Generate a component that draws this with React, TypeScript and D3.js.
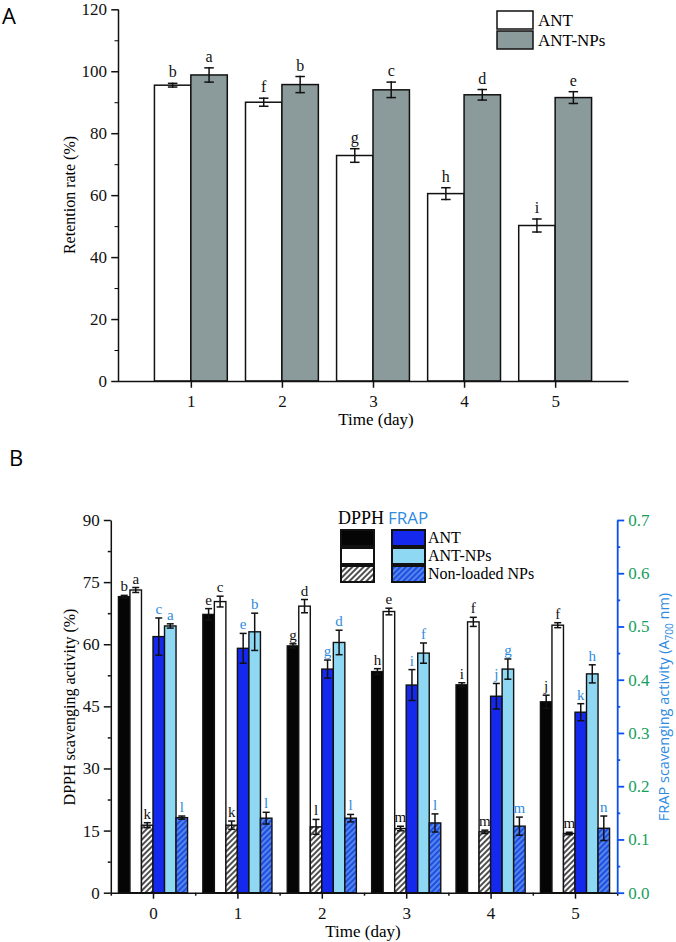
import React, { useEffect, useRef } from 'react';
import * as d3 from 'd3';

// panel A: retention rate
const daysA = [1, 2, 3, 4, 5];
const antA = [95.5, 90.0, 72.8, 60.5, 50.2];
const antErrA = [0.6, 1.3, 2.2, 1.9, 2.1];
const antLetA = ['b', 'f', 'g', 'h', 'i'];
const npsA = [98.8, 95.7, 94.0, 92.4, 91.5];
const npsErrA = [2.3, 2.6, 2.5, 1.7, 1.9];
const npsLetA = ['a', 'b', 'c', 'd', 'e'];
const yTicksA = [0, 20, 40, 60, 80, 100, 120];

// panel B: DPPH (left axis) and FRAP (right axis)
const daysB = [0, 1, 2, 3, 4, 5];
const dpphAnt = [71.5, 67.2, 59.6, 53.4, 50.2, 46.1];
const dpphAntErr = [0.3, 1.4, 0.5, 0.7, 0.5, 1.6];
const dpphAntLet = ['b', 'e', 'g', 'h', 'i', 'j'];
const dpphNps = [73.1, 70.3, 69.2, 67.9, 65.4, 64.6];
const dpphNpsErr = [0.6, 1.3, 1.6, 0.8, 1.1, 0.6];
const dpphNpsLet = ['a', 'c', 'd', 'e', 'f', 'f'];
const dpphBlank = [16.3, 16.3, 15.9, 15.5, 14.7, 14.3];
const dpphBlankErr = [0.6, 1.0, 1.8, 0.55, 0.4, 0.3];
const dpphBlankLet = ['k', 'k', 'l', 'm', 'm', 'm'];
const frapAnt = [0.481, 0.459, 0.420, 0.390, 0.369, 0.339];
const frapAntErr = [0.035, 0.028, 0.017, 0.029, 0.024, 0.016];
const frapAntLet = ['c', 'e', 'g', 'i', 'j', 'k'];
const frapNps = [0.501, 0.490, 0.470, 0.450, 0.420, 0.411];
const frapNpsErr = [0.004, 0.035, 0.023, 0.019, 0.019, 0.017];
const frapNpsLet = ['a', 'b', 'd', 'f', 'g', 'h'];
const frapBlank = [0.141, 0.140, 0.140, 0.131, 0.125, 0.121];
const frapBlankErr = [0.003, 0.011, 0.007, 0.017, 0.017, 0.023];
const frapBlankLet = ['l', 'l', 'l', 'l', 'm', 'n'];
const yTicksL = [0, 15, 30, 45, 60, 75, 90];
const yTicksR = [0, 0.1, 0.2, 0.3, 0.4, 0.5, 0.6, 0.7];

const SERIF = '"Liberation Serif", "Times New Roman", serif';
const SANS = '"Open Sans", "Liberation Sans", sans-serif';
const BLUE_TXT = '#2f8be0';

export default function App() {
  const ref = useRef<SVGSVGElement>(null);

  function draw() {
    const svg = d3.select(ref.current);
    svg.selectAll('*').remove();

    const defs = svg.append('defs');
    const p1 = defs.append('pattern').attr('id', 'hatchBW')
      .attr('patternUnits', 'userSpaceOnUse').attr('width', 4).attr('height', 4)
      .attr('patternTransform', 'rotate(45)');
    p1.append('rect').attr('width', 4).attr('height', 4).attr('fill', '#fff');
    p1.append('line').attr('x1', 2).attr('x2', 2).attr('y1', 0).attr('y2', 4)
      .attr('stroke', '#222').attr('stroke-width', 1.6);
    const p2 = defs.append('pattern').attr('id', 'hatchBlue')
      .attr('patternUnits', 'userSpaceOnUse').attr('width', 4).attr('height', 4)
      .attr('patternTransform', 'rotate(45)');
    p2.append('rect').attr('width', 4).attr('height', 4).attr('fill', '#1e4fe0');
    p2.append('line').attr('x1', 2).attr('x2', 2).attr('y1', 0).attr('y2', 4)
      .attr('stroke', '#6d9cf2').attr('stroke-width', 1.4);

    // error bar + letter helper
    function errBar(g: any, cx: number, top: number, lo: number, hi: number, cap: number) {
      g.append('line').attr('x1', cx).attr('x2', cx).attr('y1', lo).attr('y2', hi)
        .attr('stroke', '#111').attr('stroke-width', 1.5);
      [lo, hi].forEach(yy => {
        g.append('line').attr('x1', cx - cap).attr('x2', cx + cap).attr('y1', yy).attr('y2', yy)
          .attr('stroke', '#111').attr('stroke-width', 1.5);
      });
    }

    // ---------------- Panel A ----------------
    const gA = svg.append('g');
    const xA = d3.scaleLinear().domain([0.2, 5.8]).range([118, 628]);
    const yA = d3.scaleLinear().domain([0, 120]).range([381, 9.3]);
    const bwA = xA(1.4) - xA(1);

    const seriesA = [
      { vals: antA, err: antErrA, lets: antLetA, fill: '#ffffff', off: -1 },
      { vals: npsA, err: npsErrA, lets: npsLetA, fill: '#8b9b9b', off: 0 },
    ];
    seriesA.forEach(s => {
      daysA.forEach((d, i) => {
        const x0 = xA(d) + s.off * bwA;
        gA.append('rect').attr('x', x0).attr('y', yA(s.vals[i]))
          .attr('width', bwA).attr('height', yA(0) - yA(s.vals[i]))
          .attr('fill', s.fill).attr('stroke', '#111').attr('stroke-width', 1.5);
        const cx = x0 + bwA / 2;
        const hi = yA(s.vals[i] + s.err[i]);
        errBar(gA, cx, yA(s.vals[i]), yA(s.vals[i] - s.err[i]), hi, 4);
        gA.append('text').attr('x', cx).attr('y', hi - 6).attr('text-anchor', 'middle')
          .attr('font-family', SERIF).attr('font-size', 16).attr('fill', '#111').text(s.lets[i]);
      });
    });

    const axA = gA.append('g').attr('transform', `translate(0,${yA(0)})`)
      .call(d3.axisBottom(xA).tickValues(daysA).tickSize(6).tickSizeOuter(0).tickPadding(8).tickFormat(d3.format('d')));
    const ayA = gA.append('g').attr('transform', `translate(${xA(0.2)},0)`)
      .call(d3.axisLeft(yA).tickValues(yTicksA).tickSize(6).tickSizeOuter(0).tickPadding(5));
    gA.append('g').attr('transform', `translate(${xA(0.2)},0)`)
      .call(d3.axisLeft(yA).tickValues(d3.range(10, 120, 20)).tickSize(3).tickFormat(() => ''))
      .select('.domain').remove();
    [axA, ayA].forEach(a => {
      a.selectAll('text').attr('font-family', SERIF).attr('font-size', 17).attr('fill', '#111');
      a.selectAll('line,path').attr('stroke', '#111').attr('stroke-width', 1.5);
    });
    gA.selectAll('line').attr('stroke-linecap', 'square');

    gA.append('text').attr('transform', `translate(75,195) rotate(-90)`).attr('text-anchor', 'middle')
      .attr('font-family', SERIF).attr('font-size', 16).text('Retention rate (%)');
    gA.append('text').attr('x', 376).attr('y', 425).attr('text-anchor', 'middle')
      .attr('font-family', SERIF).attr('font-size', 17).text('Time (day)');
    gA.append('text').attr('x', 2).attr('y', 24)
      .attr('font-family', SANS).attr('font-size', 22).text('A');

    // legend A
    [['ANT', '#ffffff', 11], ['ANT-NPs', '#8b9b9b', 31]].forEach(([lab, fill, yy]) => {
      gA.append('rect').attr('x', 497).attr('y', yy as number).attr('width', 36).attr('height', 18)
        .attr('fill', fill as string).attr('stroke', '#111').attr('stroke-width', 1.5);
      gA.append('text').attr('x', 538).attr('y', (yy as number) + 15)
        .attr('font-family', SERIF).attr('font-size', 17).text(lab as string);
    });

    // ---------------- Panel B ----------------
    const gB = svg.append('g');
    const xB = d3.scaleLinear().domain([-0.5, 5.5]).range([110.8, 617.2]);
    const yL = d3.scaleLinear().domain([0, 90]).range([892.7, 520]);
    const yR = d3.scaleLinear().domain([0, 0.7]).range([892.7, 520]);
    const bw = xB(0.1365) - xB(0);

    const seriesB = [
      { vals: dpphAnt, err: dpphAntErr, lets: dpphAntLet, fill: '#050505', y: yL, col: '#111' },
      { vals: dpphNps, err: dpphNpsErr, lets: dpphNpsLet, fill: '#ffffff', y: yL, col: '#111' },
      { vals: dpphBlank, err: dpphBlankErr, lets: dpphBlankLet, fill: 'url(#hatchBW)', y: yL, col: '#111' },
      { vals: frapAnt, err: frapAntErr, lets: frapAntLet, fill: '#1428ee', y: yR, col: BLUE_TXT },
      { vals: frapNps, err: frapNpsErr, lets: frapNpsLet, fill: '#8fd8f4', y: yR, col: BLUE_TXT },
      { vals: frapBlank, err: frapBlankErr, lets: frapBlankLet, fill: 'url(#hatchBlue)', y: yR, col: BLUE_TXT },
    ];
    seriesB.forEach((s, k) => {
      daysB.forEach((d, i) => {
        const x0 = xB(d) + (k - 3) * bw;
        const sc = s.y;
        gB.append('rect').attr('x', x0).attr('y', sc(s.vals[i]))
          .attr('width', bw).attr('height', sc(0) - sc(s.vals[i]))
          .attr('fill', s.fill).attr('stroke', '#111').attr('stroke-width', 1.4);
        const cx = x0 + bw / 2;
        const hi = sc(s.vals[i] + s.err[i]);
        errBar(gB, cx, sc(s.vals[i]), sc(s.vals[i] - s.err[i]), hi, 3.5);
        gB.append('text').attr('x', cx).attr('y', hi - 4).attr('text-anchor', 'middle')
          .attr('font-family', SERIF).attr('font-size', 15).attr('fill', s.col).text(s.lets[i]);
      });
    });

    const axB = gB.append('g').attr('transform', `translate(0,${yL(0)})`)
      .call(d3.axisBottom(xB).tickValues(daysB).tickSize(6).tickSizeOuter(0).tickPadding(8).tickFormat(d3.format('d')));
    gB.append('g').attr('transform', `translate(0,${yL(0)})`)
      .call(d3.axisBottom(xB).tickValues(d3.range(-0.5, 5.6, 1)).tickSize(3).tickFormat(() => ''))
      .select('.domain').remove();
    const ayL = gB.append('g').attr('transform', `translate(${xB(-0.5)},0)`)
      .call(d3.axisLeft(yL).tickValues(yTicksL).tickSize(7).tickSizeOuter(0).tickPadding(4));
    gB.append('g').attr('transform', `translate(${xB(-0.5)},0)`)
      .call(d3.axisLeft(yL).tickValues(d3.range(7.5, 90, 15)).tickSize(3).tickFormat(() => ''))
      .select('.domain').remove();
    [axB, ayL].forEach(a => {
      a.selectAll('text').attr('font-family', SERIF).attr('font-size', 17).attr('fill', '#111');
    });
    gB.selectAll('.tick line, .domain').attr('stroke', '#111').attr('stroke-width', 1.5);

    const ayR = gB.append('g').attr('transform', `translate(${xB(5.5)},0)`)
      .call(d3.axisRight(yR).tickValues(yTicksR).tickSize(7).tickSizeOuter(0).tickPadding(4).tickFormat(d3.format('.1f')));
    const ayR2 = gB.append('g').attr('transform', `translate(${xB(5.5)},0)`)
      .call(d3.axisRight(yR).tickValues(d3.range(0.05, 0.7, 0.1)).tickSize(3).tickFormat(() => ''));
    ayR2.select('.domain').remove();
    [ayR, ayR2].forEach(a => a.selectAll('.tick line, .domain').attr('stroke', '#0a50f0').attr('stroke-width', 1.8));
    ayR.selectAll('text').attr('font-family', SERIF).attr('font-size', 17).attr('fill', '#16a05c');

    gB.append('text').attr('transform', `translate(75,707) rotate(-90)`).attr('text-anchor', 'middle')
      .attr('font-family', SERIF).attr('font-size', 16).text('DPPH scavenging activity (%)');
    const rl = gB.append('text').attr('transform', `translate(669,707) rotate(-90)`).attr('text-anchor', 'middle')
      .attr('font-family', SANS).attr('font-size', 14.5).attr('fill', BLUE_TXT);
    rl.append('tspan').text('FRAP scavenging activity (A');
    rl.append('tspan').attr('font-size', 10).attr('dy', 4).text('700');
    rl.append('tspan').attr('dy', -4).text(' nm)');
    gB.append('text').attr('x', 363).attr('y', 937).attr('text-anchor', 'middle')
      .attr('font-family', SERIF).attr('font-size', 17).text('Time (day)');
    gB.append('text').attr('x', 9).attr('y', 466)
      .attr('font-family', SANS).attr('font-size', 22).text('B');

    // legend B
    gB.append('text').attr('x', 338).attr('y', 524).attr('font-family', SERIF).attr('font-size', 18).text('DPPH');
    gB.append('text').attr('x', 388).attr('y', 524).attr('font-family', SANS).attr('font-size', 17)
      .attr('fill', BLUE_TXT).text('FRAP');
    const rowsY = [530, 548, 566];
    const leftFills = ['#050505', '#ffffff', 'url(#hatchBW)'];
    const rightFills = ['#1428ee', '#8fd8f4', 'url(#hatchBlue)'];
    const labs = ['ANT', 'ANT-NPs', 'Non-loaded NPs'];
    rowsY.forEach((yy, i) => {
      gB.append('rect').attr('x', 341).attr('y', yy).attr('width', 33).attr('height', 16)
        .attr('fill', leftFills[i]).attr('stroke', '#111').attr('stroke-width', 2);
      gB.append('rect').attr('x', 392).attr('y', yy).attr('width', 33).attr('height', 16)
        .attr('fill', rightFills[i]).attr('stroke', '#111').attr('stroke-width', 2);
      gB.append('text').attr('x', 428).attr('y', yy + 13).attr('font-family', SERIF)
        .attr('font-size', 16).text(labs[i]);
    });
  }

  useEffect(() => {
    draw();
  }, []);

  return (
    <svg ref={ref} width={676} height={942}
      style={{ position: 'absolute', left: 0, top: 0, background: '#fff' }} />
  );
}
